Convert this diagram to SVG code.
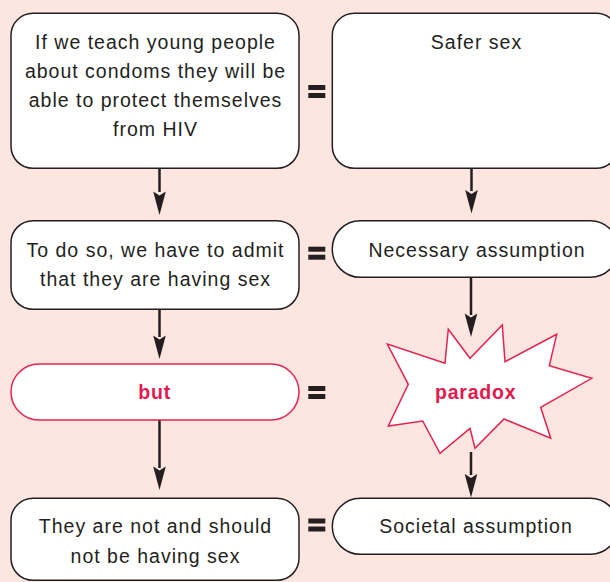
<svg xmlns="http://www.w3.org/2000/svg" width="610" height="582" viewBox="0 0 610 582">
<style>
  .bg { fill: #fde5e0; }
  .box { fill: #ffffff; stroke: #231f20; stroke-width: 1.5; }
  .rbox { fill: #ffffff; stroke: #e5234f; stroke-width: 1.5; }
  .t { font-family: "Liberation Sans", Arial, sans-serif; font-size: 19.5px; letter-spacing: 1px; fill: #231f20; text-anchor: middle; }
  .rt { font-family: "Liberation Sans", Arial, sans-serif; font-size: 19.5px; letter-spacing: 0.8px; font-weight: bold; fill: #e5184e; text-anchor: middle; }
  .line { stroke: #231f20; stroke-width: 2.5; fill: none; }
  .eq { fill: #231f20; }
</style>
<defs>
  <marker id="ah" markerUnits="userSpaceOnUse" markerWidth="14" markerHeight="26" viewBox="-7 -24 14 26" refX="0" refY="0" orient="auto-start-reverse">
    <path d="M0,0 L-6.3,-23.5 L0,-19.5 L6.3,-23.5 Z" fill="#231f20" transform="rotate(-90)"/>
  </marker>
  <g id="equals">
    <rect x="0" y="0" width="17" height="5"/>
    <rect x="0" y="8" width="17" height="5"/>
  </g>
</defs>
<rect class="bg" x="0" y="0" width="610" height="582"/>

<g id="connectors">
  <line class="line" x1="159.5" y1="168" x2="159.5" y2="192"/>
  <path d="M159.5,215 L153.2,191.5 L159.5,195.5 L165.8,191.5 Z" fill="#231f20"/>
  <line class="line" x1="159.5" y1="309" x2="159.5" y2="337"/>
  <path d="M159.5,359 L153.2,335.5 L159.5,339.5 L165.8,335.5 Z" fill="#231f20"/>
  <line class="line" x1="159.5" y1="420" x2="159.5" y2="468"/>
  <path d="M159.5,490 L153.2,466.5 L159.5,470.5 L165.8,466.5 Z" fill="#231f20"/>
  <line class="line" x1="471.5" y1="168" x2="471.5" y2="191"/>
  <path d="M471.5,213.5 L465.2,190 L471.5,194 L477.8,190 Z" fill="#231f20"/>
  <line class="line" x1="471" y1="277" x2="471" y2="315"/>
  <path d="M471,337 L464.7,313.5 L471,317.5 L477.3,313.5 Z" fill="#231f20"/>
  <line class="line" x1="471" y1="452" x2="471" y2="475"/>
  <path d="M471,497.5 L464.7,474 L471,478 L477.3,474 Z" fill="#231f20"/>
  <use href="#equals" class="eq" x="308.3" y="85"/>
  <use href="#equals" class="eq" x="308.3" y="246.7"/>
  <use href="#equals" class="eq" x="308.3" y="386"/>
  <use href="#equals" class="eq" x="308.3" y="518.5"/>
</g>

<g id="node-condoms">
  <rect class="box" x="11" y="13.3" width="288" height="155" rx="22" ry="22"/>
  <text class="t" x="155.5" y="49.3">If we teach young people</text>
  <text class="t" x="155.5" y="78.3">about condoms they will be</text>
  <text class="t" x="155.5" y="107.3">able to protect themselves</text>
  <text class="t" x="155.5" y="136.3">from HIV</text>
</g>

<g id="node-safer">
  <rect class="box" x="332.3" y="13.3" width="286" height="155" rx="22" ry="22"/>
  <text class="t" x="476.5" y="49.3">Safer sex</text>
</g>

<g id="node-admit">
  <rect class="box" x="11" y="220.7" width="288" height="88.6" rx="22" ry="22"/>
  <text class="t" x="155.5" y="256.7">To do so, we have to admit</text>
  <text class="t" x="155.5" y="286">that they are having sex</text>
</g>

<g id="node-necessary">
  <rect class="box" x="332.3" y="220.7" width="286" height="56.6" rx="28" ry="28"/>
  <text class="t" x="477" y="256.7">Necessary assumption</text>
</g>

<g id="node-but">
  <rect class="rbox" x="11" y="364" width="288" height="56" rx="28" ry="28"/>
  <text class="rt" x="154.6" y="399.3">but</text>
</g>

<g id="node-paradox">
  <polygon class="rbox" points="448.3,329.3 470,358.3 502.3,325 505,361.7 556.7,334.3 549.3,365.7 591.7,378.3 540.7,407.3 550.7,438.3 504,419 475,448.3 470,428.3 440,453.3 422.7,421 388.3,426 408.3,384.3 387.3,344 445,363.3"/>
  <text class="rt" x="475.7" y="399.3">paradox</text>
</g>

<g id="node-notsex">
  <rect class="box" x="11" y="498.3" width="288" height="82" rx="22" ry="22"/>
  <text class="t" x="155.5" y="533.3">They are not and should</text>
  <text class="t" x="155.5" y="562.7">not be having sex</text>
</g>

<g id="node-societal">
  <rect class="box" x="332.3" y="498.3" width="286" height="56" rx="28" ry="28"/>
  <text class="t" x="476" y="533.3">Societal assumption</text>
</g>
</svg>
